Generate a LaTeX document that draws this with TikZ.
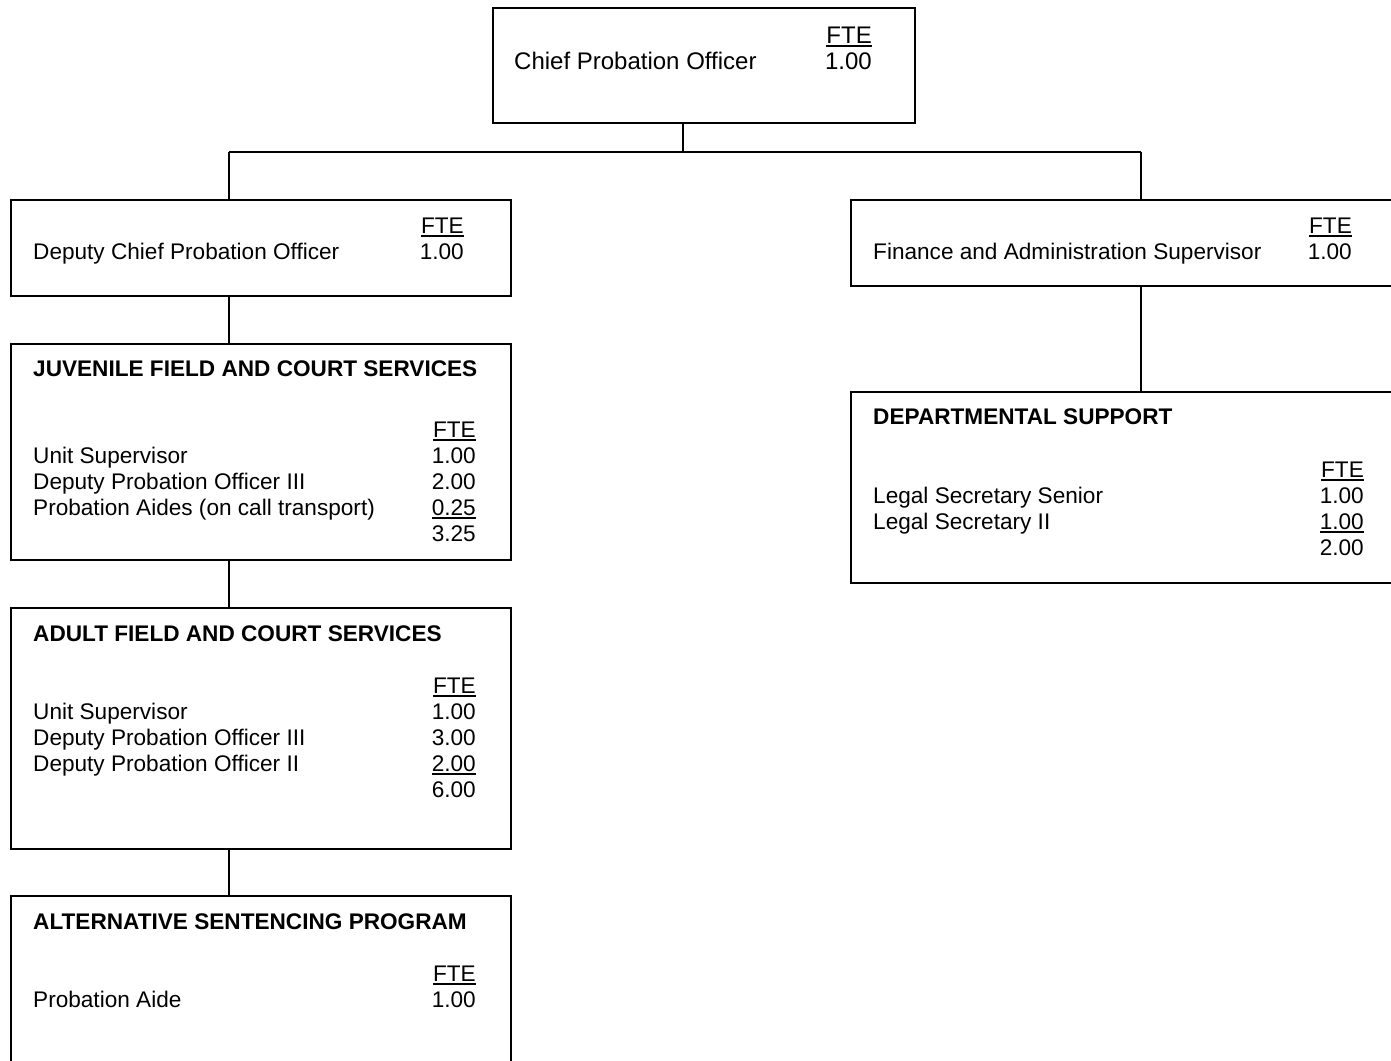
\documentclass[tikz,border=0pt]{standalone}
\usepackage{fontspec}
\setmainfont{Liberation Sans}
\usetikzlibrary{positioning}
\newcommand{\ftebar}[1]{\setbox0\hbox{#1}\rlap{\rule[-3.5pt]{\wd0}{1.8pt}}\box0}

\begin{document}
\begin{tikzpicture}[x=1pt,y=-1pt,
  unit/.style={draw, line width=1.8pt, inner sep=0pt},
  link/.style={line width=1.8pt},
  txt/.style={anchor=base west, inner sep=0pt, font=\fontsize{22.6}{26}\selectfont},
  num/.style={anchor=base east, inner sep=0pt, font=\fontsize{22.6}{26}\selectfont},
  head/.style={txt, font=\fontsize{22.6}{26}\selectfont\bfseries},
  big/.style={font=\fontsize{24}{27}\selectfont}]

  \useasboundingbox (0,0) rectangle (1391,1060);
  \clip (0,0) rectangle (1391,1060);

  \def\lh{26};

  %boxes
  \node[unit, minimum width=422pt, minimum height=115pt] (chief) at (704,65.5) {};
  \node[unit, minimum width=500pt, minimum height=96pt] (deputy) at (261,248) {};
  \node[unit, minimum width=560pt, minimum height=86pt] (finance) at (1131,243) {};
  \node[unit, minimum width=560pt, minimum height=191pt] (support) at (1131,487.5) {};
  \node[unit, minimum width=500pt, minimum height=216pt] (juvenile) at (261,452) {};
  \node[unit, minimum width=500pt, minimum height=241pt] (adult) at (261,728.5) {};
  \node[unit, minimum width=500pt, minimum height=190pt] (altsent) at (261,991) {};

  %lines
  \coordinate (busL) at (229,152);
  \coordinate (busR) at (1141,152);
  \coordinate (drop) at ([xshift=-21pt]chief.south);
  \draw[link] (drop) -- (drop |- busL);
  \draw[link] (busL) -- (busR);
  \draw[link] (busL) -- (busL |- deputy.north);
  \draw[link] (busR) -- (busR |- finance.north);
  \draw[link] (busL |- deputy.south) -- (busL |- juvenile.north);
  \draw[link] (busL |- juvenile.south) -- (busL |- adult.north);
  \draw[link] (busL |- adult.south) -- (busL |- altsent.north);
  \draw[link] (busR |- finance.south) -- (busR |- support.north);

  %single posts
  \node[txt, big] (chief-t) at (514,69) {Chief Probation Officer};
  \node[num, big] (chief-h) at (872,43) {\ftebar{FTE}};
  \node[num, big] (chief-n) at (872,69) {1.00};

  \node[txt] (deputy-t) at (33,259) {Deputy Chief Probation Officer};
  \node[num] (deputy-h) at (464,233) {\ftebar{FTE}};
  \node[num] (deputy-n) at (464,259) {1.00};

  \node[txt] (finance-t) at (873,259) {Finance and Administration Supervisor};
  \node[num] (finance-h) at (1352,233) {\ftebar{FTE}};
  \node[num] (finance-n) at (1352,259) {1.00};

  %units
  \node[head] (juv-t) at (33,376) {JUVENILE FIELD AND COURT SERVICES};
  \node[num] (juv-h) at (476,437) {\ftebar{FTE}};
    \foreach \i/\job/\num in {1/Unit Supervisor/1.00, 2/Deputy Probation Officer III/2.00, 3/{Probation Aides (on call transport)}/\ftebar{0.25}, 4//3.25}{
         \node[txt] (juv-t\i) at (33,437+\i*\lh) {\job};
         \node[num] (juv-n\i) at (476,437+\i*\lh) {\num};
    }

  \node[head] (adult-t) at (33,641) {ADULT FIELD AND COURT SERVICES};
  \node[num] (adult-h) at (476,693) {\ftebar{FTE}};
    \foreach \i/\job/\num in {1/Unit Supervisor/1.00, 2/Deputy Probation Officer III/3.00, 3/Deputy Probation Officer II/\ftebar{2.00}, 4//6.00}{
         \node[txt] (adult-t\i) at (33,693+\i*\lh) {\job};
         \node[num] (adult-n\i) at (476,693+\i*\lh) {\num};
    }

  \node[head] (alt-t) at (33,929) {ALTERNATIVE SENTENCING PROGRAM};
  \node[num] (alt-h) at (476,981) {\ftebar{FTE}};
  \node[txt] (alt-t1) at (33,1007) {Probation Aide};
  \node[num] (alt-n1) at (476,1007) {1.00};

  \node[head] (sup-t) at (873,424) {DEPARTMENTAL SUPPORT};
  \node[num] (sup-h) at (1364,477) {\ftebar{FTE}};
    \foreach \i/\job/\num in {1/Legal Secretary Senior/1.00, 2/Legal Secretary II/\ftebar{1.00}, 3//2.00}{
         \node[txt] (sup-t\i) at (873,477+\i*\lh) {\job};
         \node[num] (sup-n\i) at (1364,477+\i*\lh) {\num};
    }

\end{tikzpicture}
\end{document}
